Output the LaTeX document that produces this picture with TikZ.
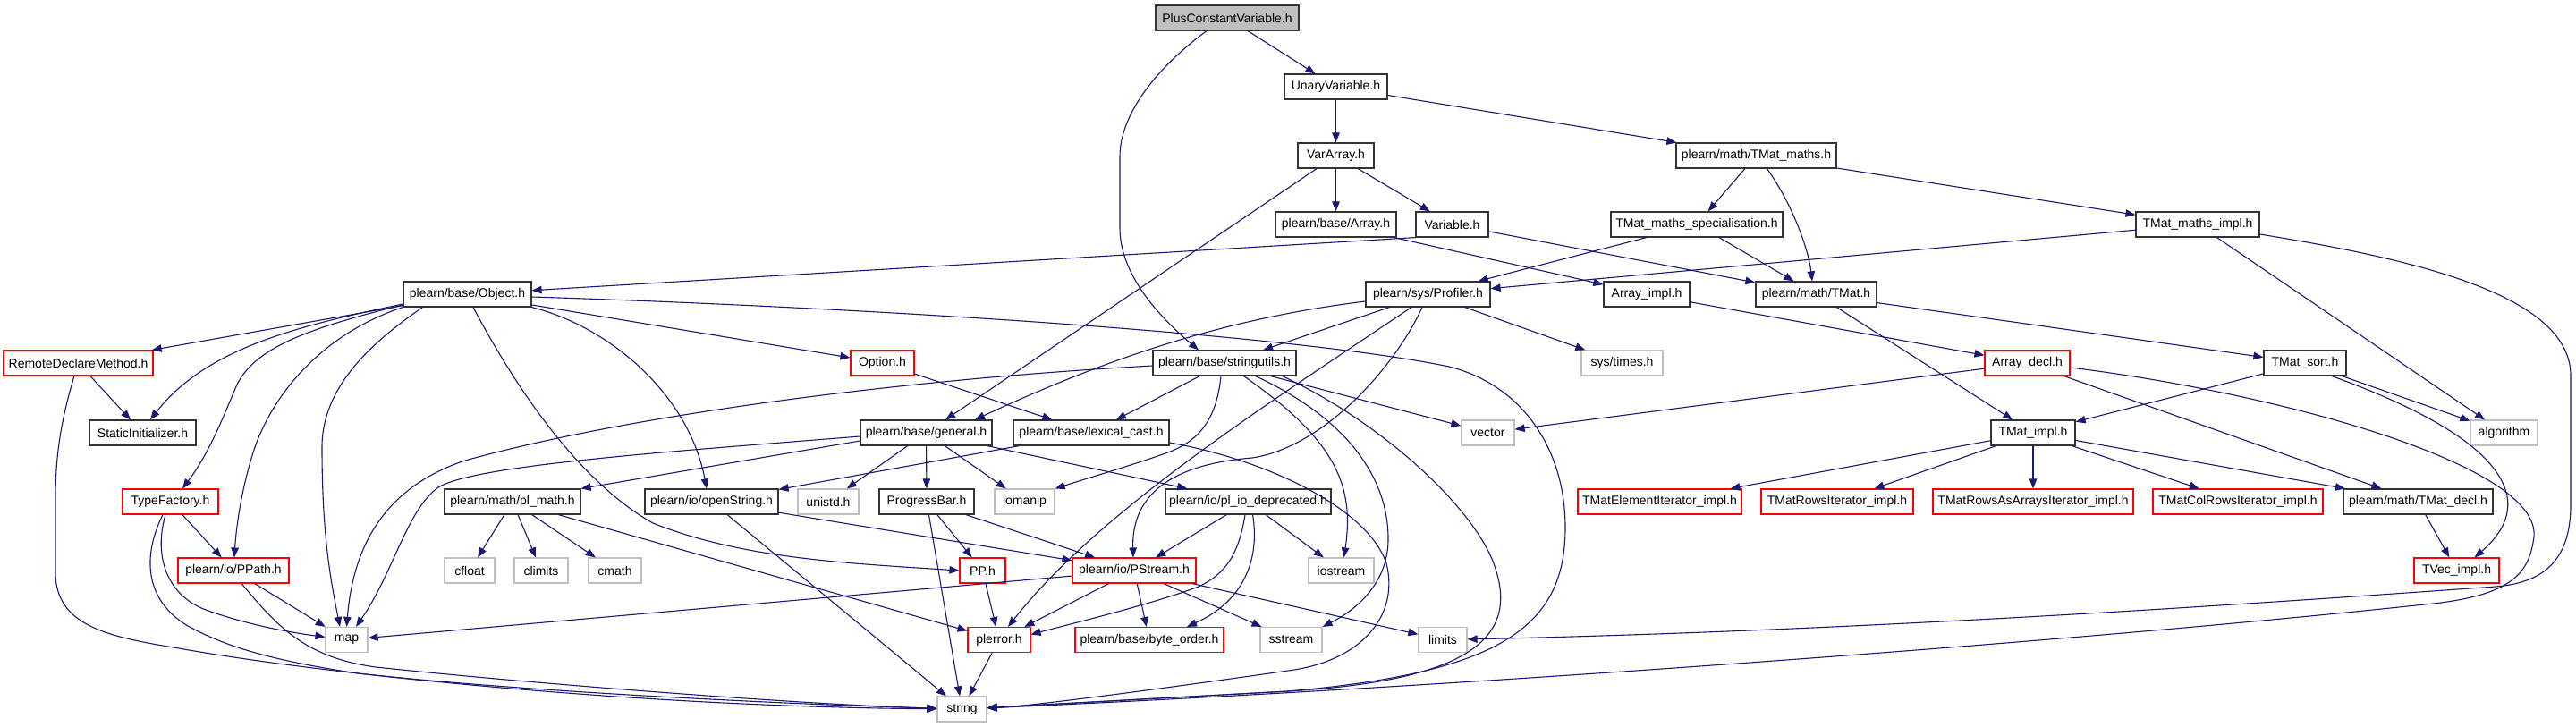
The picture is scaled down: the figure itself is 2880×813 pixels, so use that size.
\documentclass[tikz,border=0pt]{standalone}
\usepackage{fontspec}
\setmainfont{Liberation Sans}
\usetikzlibrary{arrows.meta}
\definecolor{edgec}{HTML}{191970}
\definecolor{redb}{HTML}{FF0000}
\definecolor{greyb}{HTML}{BFBFBF}
\definecolor{fillg}{HTML}{BFBFBF}
\begin{document}
\begin{tikzpicture}[x=1pt,y=-1pt,
  nb/.style={draw=black!80, line width=1.2pt, minimum height=28pt, inner sep=0pt, font=\fontsize{14}{16}\selectfont},
  rb/.style={nb, draw=redb, line width=1.1pt},
  gb/.style={nb, draw=greyb, line width=1.2pt},
  ed/.style={draw=edgec, line width=1.1pt, -{Triangle[length=11pt,width=8.5pt]}}]
\useasboundingbox (0,0) rectangle (2880,813);
\fill[white] (0,0) rectangle (2880,813);
% row 0
\node[nb, minimum width=160pt, fill=fillg] (pcv) at (1372,20) {PlusConstantVariable.h};
% row 1
\node[nb, minimum width=115pt] (unary) at (1493.5,97) {UnaryVariable.h};
% row 2
\node[nb, minimum width=85pt] (vararr) at (1493.5,174) {VarArray.h};
\node[nb, minimum width=179pt] (tmaths) at (1963.5,174) {plearn/math/TMat\_maths.h};
% row 3
\node[nb, minimum width=135pt] (array) at (1493.5,251) {plearn/base/Array.h};
\node[nb, minimum width=81pt] (variable) at (1623.5,251) {Variable.h};
\node[nb, minimum width=192pt] (tspec) at (1897,251) {TMat\_maths\_specialisation.h};
\node[nb, minimum width=138pt] (timpl) at (2457,251) {TMat\_maths\_impl.h};
% row 4
\node[nb, minimum width=143pt] (object) at (522.5,329) {plearn/base/Object.h};
\node[nb, minimum width=139pt] (profiler) at (1596.5,329) {plearn/sys/Profiler.h};
\node[nb, minimum width=96pt] (arrimpl) at (1841,329) {Array\_impl.h};
\node[nb, minimum width=135pt] (tmat) at (2030.5,329) {plearn/math/TMat.h};
% row 5
\node[rb, minimum width=167pt] (remote) at (87.5,406) {RemoteDeclareMethod.h};
\node[rb, minimum width=71pt] (option) at (986.5,406) {Option.h};
\node[nb, minimum width=160pt] (strutils) at (1369,406) {plearn/base/stringutils.h};
\node[gb, minimum width=91pt] (times) at (1813.5,406) {sys/times.h};
\node[rb, minimum width=95pt] (arrdecl) at (2266.5,406) {Array\_decl.h};
\node[nb, minimum width=92pt] (tsort) at (2577,406) {TMat\_sort.h};
% row 6
\node[nb, minimum width=119pt] (static) at (159.5,484) {StaticInitializer.h};
\node[nb, minimum width=147pt] (general) at (1035.5,484) {plearn/base/general.h};
\node[nb, minimum width=174pt] (lexcast) at (1220,484) {plearn/base/lexical\_cast.h};
\node[gb, minimum width=59pt] (vector) at (1663.5,484) {vector};
\node[nb, minimum width=94pt] (tmatimpl) at (2273,484) {TMat\_impl.h};
\node[gb, minimum width=75pt] (algorithm) at (2799.5,484) {algorithm};
% row 7
\node[rb, minimum width=107pt] (typef) at (190.5,561) {TypeFactory.h};
\node[nb, minimum width=152pt] (plmath) at (573,561) {plearn/math/pl\_math.h};
\node[nb, minimum width=149pt] (openstr) at (795.5,561) {plearn/io/openString.h};
\node[gb, minimum width=68pt] (unistd) at (926,561) {unistd.h};
\node[nb, minimum width=106pt] (progress) at (1036,561) {ProgressBar.h};
\node[gb, minimum width=67pt] (iomanip) at (1145.5,561) {iomanip};
\node[nb, minimum width=185pt] (pliodep) at (1395.5,561) {plearn/io/pl\_io\_deprecated.h};
\node[rb, minimum width=183pt] (telem) at (1855.5,561) {TMatElementIterator\_impl.h};
\node[rb, minimum width=170pt] (trows) at (2054,561) {TMatRowsIterator\_impl.h};
\node[rb, minimum width=224pt] (trowsarr) at (2273,561) {TMatRowsAsArraysIterator\_impl.h};
\node[rb, minimum width=190pt] (tcolrows) at (2502,561) {TMatColRowsIterator\_impl.h};
\node[nb, minimum width=167pt] (tdecl) at (2703.5,561) {plearn/math/TMat\_decl.h};
% row 8
\node[rb, minimum width=124pt] (ppath) at (261,638) {plearn/io/PPath.h};
\node[gb, minimum width=56pt] (cfloat) at (525,638) {cfloat};
\node[gb, minimum width=60pt] (climits) at (605,638) {climits};
\node[gb, minimum width=59pt] (cmath) at (687.5,638) {cmath};
\node[rb, minimum width=51pt] (pp) at (1098.5,638) {PP.h};
\node[rb, minimum width=138pt] (pstream) at (1268,638) {plearn/io/PStream.h};
\node[gb, minimum width=73pt] (iostream) at (1499.5,638) {iostream};
\node[rb, minimum width=95pt] (tvec) at (2746.5,638) {TVec\_impl.h};
% row 9
\node[gb, minimum width=47pt] (map) at (387.5,715.5) {map};
\node[rb, minimum width=70pt] (plerror) at (1117,715.5) {plerror.h};
\node[rb, minimum width=166pt] (byteorder) at (1285,715.5) {plearn/base/byte\_order.h};
\node[gb, minimum width=69pt] (sstream) at (1443.5,715.5) {sstream};
\node[gb, minimum width=54pt] (limits) at (1613,715.5) {limits};
% row 10
\node[gb, minimum width=55pt] (string) at (1075.5,793) {string};

% ---- edges ----
\draw[ed] (pcv) -- (unary);
\draw[ed] ([xshift=-23pt]pcv.south) .. controls (1290,78) and (1252,130) .. (1252,175) -- (1252,255) .. controls (1252,300) and (1285,345) .. ([xshift=-29pt]strutils.north);
\draw[ed] (unary) -- (vararr);
\draw[ed] (unary) -- (tmaths);
\draw[ed] (vararr) -- (general);
\draw[ed] (vararr) -- (array);
\draw[ed] (vararr) -- (variable);
\draw[ed] (tmaths) -- (tspec);
\draw[ed] ([xshift=12pt]tmaths.south) .. controls (2005,230) and (2022,280) .. ([xshift=-4.5pt]tmat.north);
\draw[ed] (tmaths) -- (timpl);
\draw[ed] (array) -- (arrimpl);
\draw[ed] (variable.south west) -- (object);
\draw[ed] (variable) -- (tmat);
\draw[ed] (tspec) -- (profiler);
\draw[ed] (tspec) -- (tmat);
\draw[ed] (timpl) -- (profiler);
\draw[ed] (timpl) -- (algorithm);
\draw[ed] ([yshift=-11pt]timpl.east) .. controls (2700,290) and (2874,330) .. (2874,420) -- (2874,565) .. controls (2874,630) and (2840,652) .. (2790,656) .. controls (2550,673) and (2100,705) .. (limits);
\draw[ed] (tmat) -- (tsort);
\draw[ed] (tmat) -- (tmatimpl);
\draw[ed] (tsort) -- (tmatimpl);
\draw[ed] (tsort) -- (algorithm);
\draw[ed] ([xshift=30pt]tsort.south) .. controls (2800,490) and (2840,560) .. ([xshift=20pt]tvec.north);
\draw[ed] (arrimpl) -- (arrdecl);
\draw[ed] (arrdecl) -- (vector);
\draw[ed] (arrdecl) -- (tdecl);
\draw[ed] ([yshift=-5pt]arrdecl.east) .. controls (2550,440) and (2840,520) .. (2833,600) .. controls (2828,640) and (2810,665) .. (2720,675) .. controls (2300,720) and (1600,770) .. (string);
\draw[ed] (tmatimpl) -- (telem);
\draw[ed] (tmatimpl) -- (trows);
\draw[ed] (tmatimpl) -- (trowsarr);
\draw[ed] (tmatimpl) -- (tcolrows);
\draw[ed] (tmatimpl) -- (tdecl);
\draw[ed] (tdecl) -- (tvec);
\draw[ed] (profiler) -- (times);
\draw[ed] ([yshift=-8pt]profiler.west) .. controls (1380,355) and (1250,395) .. ([xshift=54.5pt]general.north);
\draw[ed] (profiler) -- (strutils);
\draw[ed] ([xshift=-18.5pt]profiler.south) .. controls (1420,450) and (1230,570) .. ([xshift=10pt]plerror.north);
\draw[ed] ([xshift=-6.5pt]profiler.south) .. controls (1560,410) and (1480,500) .. (1400,512) .. controls (1300,520) and (1265,560) .. ([xshift=-1pt]pstream.north);
% Object.h
\draw[ed] (object) -- (remote);
\draw[ed] ([yshift=-11pt]object.west) .. controls (330,365) and (230,390) .. ([xshift=8.5pt]static.north);
\draw[ed] ([yshift=-12pt]object.west) .. controls (340,368) and (285,390) .. (265,430) .. controls (250,465) and (235,505) .. ([xshift=13.5pt]typef.north);
\draw[ed] (object.south west) .. controls (370,370) and (310,430) .. (285,500) .. controls (270,545) and (264,590) .. ([xshift=1pt]ppath.north);
\draw[ed] ([xshift=-50pt]object.south) .. controls (420,380) and (360,430) .. (360,500) .. controls (360,600) and (370,650) .. ([xshift=-7.5pt]map.north);
\draw[ed] ([xshift=6.5pt]object.south) .. controls (580,440) and (650,540) .. (730,585) .. controls (830,625) and (950,630) .. (pp.west);
\draw[ed] (object.south east) .. controls (680,365) and (770,440) .. ([xshift=-5.5pt]openstr.north);
\draw[ed] (object) -- (option);
\draw[ed] ([yshift=-3pt]object.east) .. controls (1000,345) and (1450,375) .. (1620,410) .. controls (1700,430) and (1750,500) .. (1750,590) .. controls (1750,700) and (1680,752) .. (1440,773) -- (string);
% RemoteDeclareMethod.h
\draw[ed] (remote) -- (static);
\draw[ed] ([xshift=-4.5pt]remote.south) .. controls (65,480) and (62,520) .. (62,560) -- (62,640) .. controls (62,700) and (120,712) .. (200,725) .. controls (350,752) and (700,790) .. (string);
% TypeFactory.h
\draw[ed] (typef) -- (ppath);
\draw[ed] ([xshift=-5.5pt]typef.south) .. controls (172,620) and (185,665) .. (230,682) .. controls (280,700) and (330,708) .. (map);
\draw[ed] ([xshift=-8.5pt]typef.south) .. controls (160,620) and (160,670) .. (210,700) .. controls (250,722) and (300,738) .. (400,753) .. controls (600,775) and (900,788) .. (string);
% PPath.h
\draw[ed] (ppath) -- (map);
\draw[ed] ([xshift=9pt]ppath.south) .. controls (310,700) and (340,735) .. (420,746) .. controls (600,765) and (900,788) .. (string);
% general.h
\draw[ed] ([yshift=-4pt]general.west) .. controls (750,505) and (530,520) .. (490,545) .. controls (455,570) and (440,640) .. ([xshift=10.5pt]map.north);
\draw[ed] ([yshift=-9pt]general.west) -- (plmath.north east);
\draw[ed] (general) -- (unistd);
\draw[ed] (general) -- (progress);
\draw[ed] (general) -- (iomanip);
\draw[ed] (general) -- (pliodep);
% lexical_cast.h
\draw[ed] (lexcast) -- (openstr);
\draw[ed] ([yshift=-11pt]lexcast.east) .. controls (1420,515) and (1530,570) .. (1550,630) .. controls (1565,690) and (1520,740) .. (1440,750) .. controls (1300,770) and (1150,790) .. (string);
\draw[ed] (option) -- (lexcast);
% stringutils.h
\draw[ed] (strutils) -- (lexcast);
\draw[ed] ([xshift=-4pt]strutils.south) .. controls (1360,470) and (1340,495) .. (1300,508) .. controls (1260,522) and (1215,535) .. (iomanip.north east);
\draw[ed] ([yshift=-3pt]strutils.west) .. controls (1000,425) and (700,465) .. (520,515) .. controls (430,545) and (395,610) .. (map.north);
\draw[ed] ([xshift=-29pt]strutils.south east) -- (vector);
\draw[ed] ([xshift=-16pt]strutils.south east) .. controls (1540,470) and (1640,560) .. (1668,625) .. controls (1700,705) and (1660,760) .. (1440,773) -- (string);
\draw[ed] ([xshift=-59pt]strutils.south east) .. controls (1490,490) and (1515,540) .. ([xshift=3pt]iostream.north);
\draw[ed] ([xshift=-46pt]strutils.south east) .. controls (1500,465) and (1553,530) .. (1552,605) .. controls (1551,650) and (1520,680) .. (sstream.north east);
% others
\draw[ed] (openstr) -- (pstream);
\draw[ed] (openstr) -- (string);
\draw[ed] (plmath) -- (cfloat);
\draw[ed] (plmath) -- (climits);
\draw[ed] (plmath) -- (cmath);
\draw[ed] (plmath) -- (plerror);
\draw[ed] (progress) -- (pp);
\draw[ed] (progress) -- (pstream);
\draw[ed] (progress) -- (string);
\draw[ed] (pp) -- (plerror);
\draw[ed] (pstream) -- (plerror);
\draw[ed] (pstream) -- (byteorder);
\draw[ed] (pstream) -- (sstream);
\draw[ed] (pstream) -- (limits);
\draw[ed] (pstream) -- (map);
\draw[ed] (pliodep) -- (pstream);
\draw[ed] ([xshift=-3.5pt]pliodep.south) .. controls (1385,620) and (1370,642) .. (1340,656) .. controls (1290,675) and (1200,697) .. ([yshift=6pt]plerror.east);
\draw[ed] ([xshift=5pt]pliodep.south) .. controls (1408,620) and (1395,670) .. ([xshift=42pt]byteorder.north);
\draw[ed] (pliodep) -- (iostream);
\draw[ed] (plerror) -- (string);
\end{tikzpicture}
\end{document}
